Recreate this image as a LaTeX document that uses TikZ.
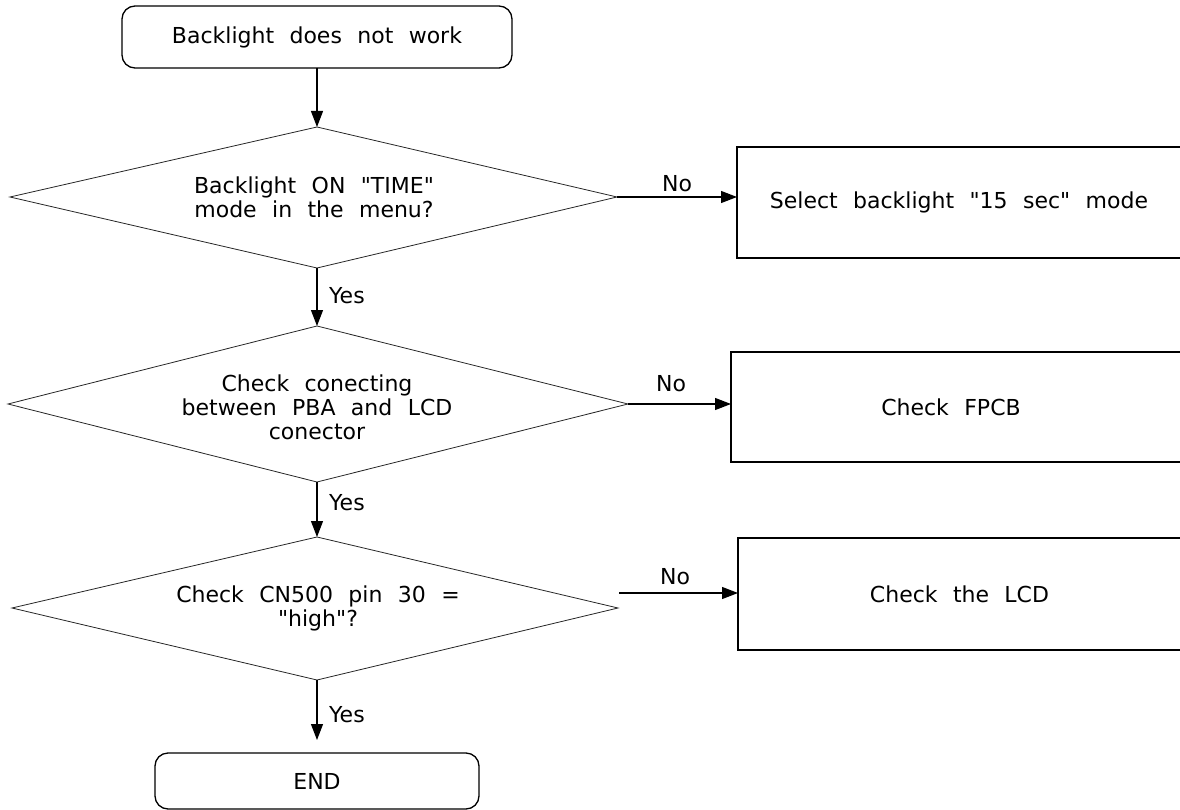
\documentclass[tikz,border=0pt]{standalone}
\usepackage{fontspec}
\newfontfamily\dvs{DejaVu Sans}[WordSpace=2.2]
\usetikzlibrary{arrows.meta}
\begin{document}
\begin{tikzpicture}[x=1pt,y=-1pt,
  font=\dvs\fontsize{22}{24}\selectfont,
  termbox/.style={draw, line width=1.3pt, rounded corners=13pt, outer sep=0pt, inner sep=0pt},
  procbox/.style={draw, line width=1.5pt, outer sep=0pt, inner sep=0pt},
  decision/.style={draw=black!85, line width=0.8pt, line join=miter},
  flow/.style={line width=1.2pt, -{Triangle[length=16pt,width=12pt]}},
  lbl/.style={inner sep=0pt, align=center}]
\path[use as bounding box, clip] (0,0) rectangle (1180,810);

% start
\node[termbox, minimum width=390pt, minimum height=62pt] (start) at (317,37) {Backlight does not work};

% decision 1
\coordinate (t1) at (317,127);
\coordinate (b1) at (317,268);
\coordinate (l1) at (10,197);
\coordinate (r1) at (617,197);
\draw[decision] (t1) -- (r1) -- (b1) -- (l1) -- cycle;
\node[lbl] (d1) at (314,197) {Backlight ON "TIME"\\mode in the menu?};

% decision 2
\coordinate (t2) at (317,326);
\coordinate (b2) at (317,482);
\coordinate (l2) at (8,404);
\coordinate (r2) at (628,404);
\draw[decision] (t2) -- (r2) -- (b2) -- (l2) -- cycle;
\node[lbl] (d2) at (317,407) {Check conecting\\between PBA and LCD\\conector};

% decision 3
\coordinate (t3) at (317,537);
\coordinate (b3) at (317,680);
\coordinate (l3) at (12,608);
\coordinate (r3) at (618,608);
\draw[decision] (t3) -- (r3) -- (b3) -- (l3) -- cycle;
\node[lbl] (d3) at (318,608) {Check CN500 pin 30 =\\"high"?};

% process boxes
\node[procbox, minimum width=444pt, minimum height=111pt] (p1) at (959,202.5) {Select backlight "15 sec" mode};
\node[procbox, minimum width=450pt, minimum height=110pt] (p2) at (956,407) {\hspace*{-10pt}Check FPCB};
\node[procbox, minimum width=443pt, minimum height=112pt] (p3) at (959.5,594) {\raisebox{-4pt}{Check the LCD}};

% end
\node[termbox, minimum width=324pt, minimum height=56pt] (end) at (317,781) {END};
\coordinate (e0) at (317,740);

% connectors
\draw[flow] (start.south) -- (t1);
\draw[flow] (b1) -- (t2);
\draw[flow] (b2) -- (t3);
\draw[flow] (b3) -- (e0);
\draw[flow] (r1) -- (r1 -| p1.west);
\draw[flow] (r2) -- (r2 -| p2.west);
\coordinate (n3) at (619,593);
\draw[flow] (n3) -- (n3 -| p3.west);

% labels
\node[lbl] (no1) at (677,184) {No};
\node[lbl] (no2) at (671,384) {No};
\node[lbl] (no3) at (675,577) {No};
\node[lbl, anchor=west] (yes1) at (329,296) {Yes};
\node[lbl, anchor=west] (yes2) at (329,503) {Yes};
\node[lbl, anchor=west] (yes3) at (329,715) {Yes};
\end{tikzpicture}
\end{document}
